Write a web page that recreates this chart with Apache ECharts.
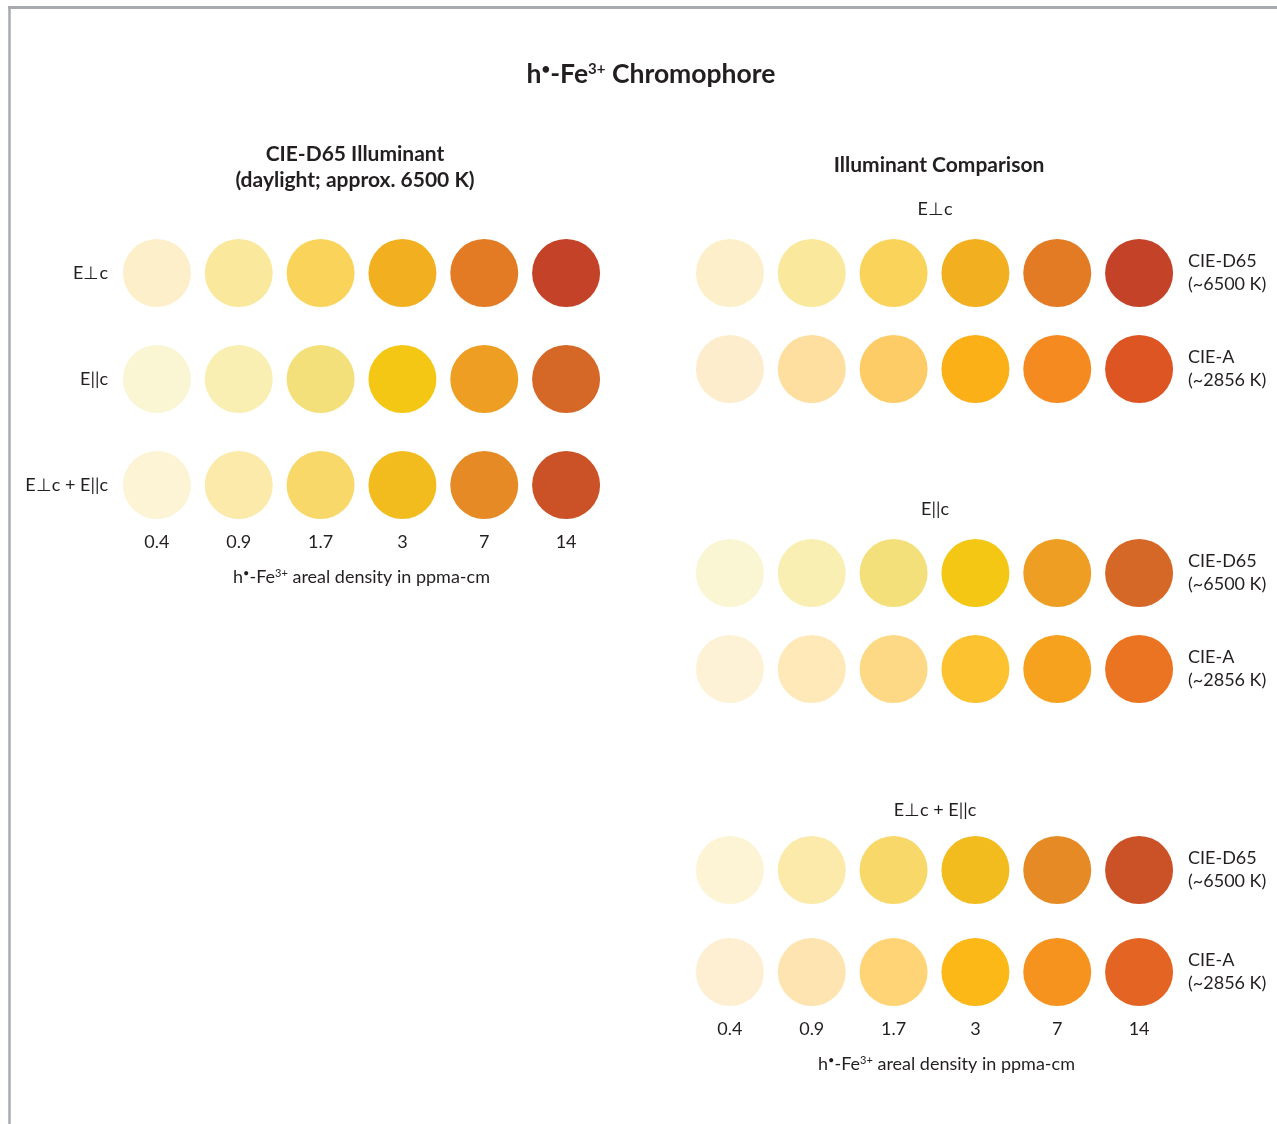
<!DOCTYPE html>
<html>
<head>
<meta charset="utf-8">
<script src="https://cdn.jsdelivr.net/npm/echarts@6/dist/echarts.min.js"></script>
<style>
  html, body { margin: 0; padding: 0; background: #fff; }
  #main { width: 1277px; height: 1124px; }
</style>
</head>
<body>
<div id="main"></div>
<script>
// categories
var densities = ['0.4', '0.9', '1.7', '3', '7', '14'];
var polarizations = ['E⊥c', 'E||c', 'E⊥c + E||c'];
var illuminants = ['CIE-D65\n(~6500 K)', 'CIE-A\n(~2856 K)'];

// rendered colours, CIE-D65 illuminant
var d65Perp = ['#fcefc9', '#fae89d', '#fad45a', '#f2b021', '#e37b24', '#c44227'];
var d65Para = ['#faf5d2', '#f9efb2', '#f4e07a', '#f5c715', '#ee9e22', '#d56727'];
var d65Both = ['#fcf4d4', '#fbeaa9', '#f7d868', '#f2bb1e', '#e68a25', '#cb5126'];
// rendered colours, CIE-A illuminant
var aPerp = ['#feedcc', '#fedfa0', '#fecc66', '#fbb017', '#f58a20', '#de5524'];
var aPara = ['#fef2d6', '#ffe9b8', '#fed985', '#fdc22f', '#f6a21e', '#eb7423'];
var aBoth = ['#feefd3', '#fee4b0', '#fed477', '#fbb817', '#f6931f', '#e46424'];

var FONT = 'Lato';
var INK = '#231f20';

var densityRich = {
  a: { fontFamily: FONT, fontSize: 18, color: INK },
  s: { fontFamily: FONT, fontSize: 11, color: INK, padding: [0, 0, 8, 0] }
};
var densityName = '{a|h}{s|•}{a|-Fe}{s|3+}{a| areal density in ppma-cm}';

function rowData(colors, rowName) {
  return colors.map(function (c, i) {
    return { value: [densities[i], rowName], itemStyle: { color: c, opacity: 1 } };
  });
}

function xAxisFor(idx, showLabels, shift) {
  return {
    type: 'category', gridIndex: idx, data: densities, boundaryGap: true,
    axisLine: { show: false }, axisTick: { show: false }, splitLine: { show: false },
    axisLabel: { show: showLabels, margin: 48, fontFamily: FONT, fontSize: 18, color: INK },
    name: showLabels ? densityName : '',
    nameLocation: 'middle', nameGap: 83,
    nameTextStyle: { rich: densityRich, padding: [0, 0, 0, shift || 0] }
  };
}

function yAxisFor(idx, cats, right) {
  return {
    type: 'category', gridIndex: idx, data: cats, inverse: true, boundaryGap: false,
    position: right ? 'right' : 'left',
    axisLine: { show: false }, axisTick: { show: false }, splitLine: { show: false },
    axisLabel: {
      margin: 8, fontFamily: FONT, fontSize: 18, color: INK, lineHeight: 23,
      align: right ? 'left' : 'right'
    }
  };
}

function circles(idx, colors, rowName) {
  return {
    type: 'scatter', xAxisIndex: idx, yAxisIndex: idx, symbol: 'circle', symbolSize: 68,
    clip: false, silent: true, data: rowData(colors, rowName)
  };
}

function label(text, x, y, size, bold) {
  return {
    text: text, left: x, top: y, textAlign: 'center', padding: 0,
    textStyle: { fontFamily: FONT, fontSize: size, fontWeight: bold ? 'bold' : 'normal', color: INK, lineHeight: 26 }
  };
}

var chart = echarts.init(document.getElementById('main'), null, { renderer: 'canvas' });

chart.setOption({
  backgroundColor: '#fff',
  animation: false,
  title: [
    {
      text: '{a|h}{s|•}{a|-Fe}{s|3+}{a| Chromophore}', left: 651, top: 61, textAlign: 'center', padding: 0,
      textStyle: {
        rich: {
          a: { fontFamily: FONT, fontSize: 26.5, fontWeight: 'bold', color: INK },
          s: { fontFamily: FONT, fontSize: 15, fontWeight: 'bold', color: INK, padding: [0, 0, 10, 0] }
        }
      }
    },
    label('CIE-D65 Illuminant\n(daylight; approx. 6500 K)', 355, 141, 21, true),
    label('Illuminant Comparison', 939, 152, 21, true),
    label(polarizations[0], 935, 196, 18, false),
    label(polarizations[1], 935, 496, 18, false),
    label(polarizations[2], 935, 797, 18, false)
  ],
  graphic: [
    { type: 'line', shape: { x1: 8, y1: 7.5, x2: 1277, y2: 7.5 }, style: { stroke: '#a7abb0', lineWidth: 3 } },
    { type: 'line', shape: { x1: 9.5, y1: 6, x2: 9.5, y2: 1124 }, style: { stroke: '#a7abb0', lineWidth: 2.5 } }
  ],
  grid: [
    { left: 116, width: 491, top: 273, height: 212 },
    { left: 689, width: 491, top: 273, height: 96 },
    { left: 689, width: 491, top: 573, height: 96 },
    { left: 689, width: 491, top: 870, height: 102 }
  ],
  xAxis: [
    xAxisFor(0, true, 0),
    xAxisFor(1, false, 0),
    xAxisFor(2, false, 0),
    xAxisFor(3, true, 24)
  ],
  yAxis: [
    yAxisFor(0, polarizations, false),
    yAxisFor(1, illuminants, true),
    yAxisFor(2, illuminants, true),
    yAxisFor(3, illuminants, true)
  ],
  series: [
    circles(0, d65Perp, polarizations[0]),
    circles(0, d65Para, polarizations[1]),
    circles(0, d65Both, polarizations[2]),
    circles(1, d65Perp, illuminants[0]),
    circles(1, aPerp, illuminants[1]),
    circles(2, d65Para, illuminants[0]),
    circles(2, aPara, illuminants[1]),
    circles(3, d65Both, illuminants[0]),
    circles(3, aBoth, illuminants[1])
  ]
});
</script>
</body>
</html>
